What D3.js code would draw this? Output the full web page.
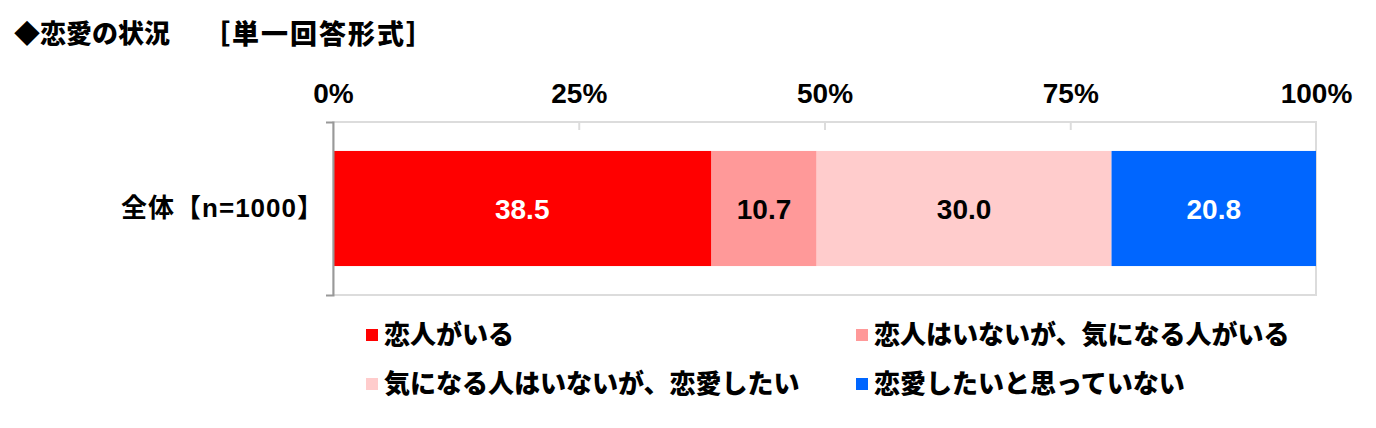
<!DOCTYPE html>
<html>
<head>
<meta charset="utf-8">
<script src="https://cdn.jsdelivr.net/npm/d3@7"></script>
<style>
  body { margin: 0; background: #fff; }
  svg text { font-family: "Liberation Sans", "Noto Sans CJK JP", sans-serif; font-weight: bold; }
  .jp { font-family: "Noto Sans CJK JP", sans-serif; font-weight: 900; }
</style>
</head>
<body>
<script>
// data
const titleMain = "◆恋愛の状況";
const titleSub = "［単一回答形式］";
const categories = ["全体【n=1000】"];
const seriesNames = ["恋人がいる", "恋人はいないが、気になる人がいる", "気になる人はいないが、恋愛したい", "恋愛したいと思っていない"];
const values = [38.5, 10.7, 30.0, 20.8];
const tickValues = [0, 25, 50, 75, 100];

const colors = ["#FF0000", "#FF9999", "#FFCCCC", "#0066FF"];
const labelColors = ["#fff", "#000", "#000", "#fff"];

const width = 1376, height = 428;
const svg = d3.select("body").append("svg")
  .attr("width", width)
  .attr("height", height);

// title
svg.append("text")
  .attr("class", "jp")
  .attr("x", 14)
  .attr("y", 43)
  .attr("font-size", 26)
  .text(titleMain);
svg.append("text")
  .attr("class", "jp")
  .attr("x", 203)
  .attr("y", 44)
  .attr("font-size", 27)
  .attr("letter-spacing", 2)
  .text(titleSub);

// scales
const x = d3.scaleLinear().domain([0, 100]).range([333, 1316]);
const y = d3.scaleBand().domain(categories).range([122, 295]).padding(0.201);

// frame (light grey)
svg.append("rect")
  .attr("x", x(0))
  .attr("y", 122)
  .attr("width", x(100) - x(0))
  .attr("height", 295 - 122)
  .attr("fill", "none")
  .attr("stroke", "#dcdcdc")
  .attr("stroke-width", 2);

// top axis: labels + small inner ticks
const xAxis = svg.append("g")
  .attr("transform", "translate(0,122)")
  .call(d3.axisTop(x).tickValues(tickValues).tickFormat(d => d + "%")
    .tickSizeInner(-8).tickSizeOuter(0).tickPadding(19));
xAxis.select(".domain").remove();
xAxis.selectAll(".tick line")
  .attr("stroke", "#dcdcdc")
  .attr("stroke-width", 2)
  .attr("display", d => (d === 0 || d === 100) ? "none" : null);
xAxis.selectAll(".tick text")
  .attr("fill", "#000")
  .attr("font-size", 28)
  .attr("font-family", "Liberation Sans, sans-serif");

// stacked data
let acc = 0;
const segs = values.map((v, i) => {
  const s = { name: seriesNames[i], value: v, x0: acc, x1: acc + v, i: i };
  acc += v;
  return s;
});

// bars
svg.selectAll(".seg")
  .data(segs)
  .enter().append("rect")
  .attr("class", "seg")
  .attr("x", d => x(d.x0))
  .attr("y", y(categories[0]))
  .attr("width", d => x(d.x1) - x(d.x0))
  .attr("height", y.bandwidth())
  .attr("fill", d => colors[d.i]);

// value labels
svg.selectAll(".val")
  .data(segs)
  .enter().append("text")
  .attr("class", "val")
  .attr("x", d => (x(d.x0) + x(d.x1)) / 2)
  .attr("y", y(categories[0]) + y.bandwidth() / 2)
  .attr("dy", "0.36em")
  .attr("text-anchor", "middle")
  .attr("font-size", 28)
  .attr("fill", d => labelColors[d.i])
  .text(d => d.value.toFixed(1));

// left axis
const yAxis = svg.append("g")
  .attr("transform", `translate(${x(0)},0)`)
  .call(d3.axisLeft(y).tickSizeInner(0).tickSizeOuter(7).tickPadding(9));
yAxis.select(".domain").attr("stroke", "#999").attr("stroke-width", 2);
yAxis.selectAll(".tick text")
  .attr("fill", "#000")
  .attr("font-size", 26)
  .attr("letter-spacing", 1)
  .attr("font-family", "Noto Sans CJK JP, sans-serif")
  .attr("font-weight", "bold");

// legend
const legPos = [[366, 335], [856, 335], [366, 384], [856, 384]];
const leg = svg.selectAll(".leg")
  .data(seriesNames)
  .enter().append("g")
  .attr("class", "leg")
  .attr("transform", (d, i) => `translate(${legPos[i][0]},${legPos[i][1]})`);
leg.append("rect")
  .attr("x", 0).attr("y", -6)
  .attr("width", 12).attr("height", 12)
  .attr("fill", (d, i) => colors[i]);
leg.append("text")
  .attr("class", "jp")
  .attr("x", 18)
  .attr("dy", "0.36em")
  .attr("font-size", 26)
  .text(d => d);
</script>
</body>
</html>
